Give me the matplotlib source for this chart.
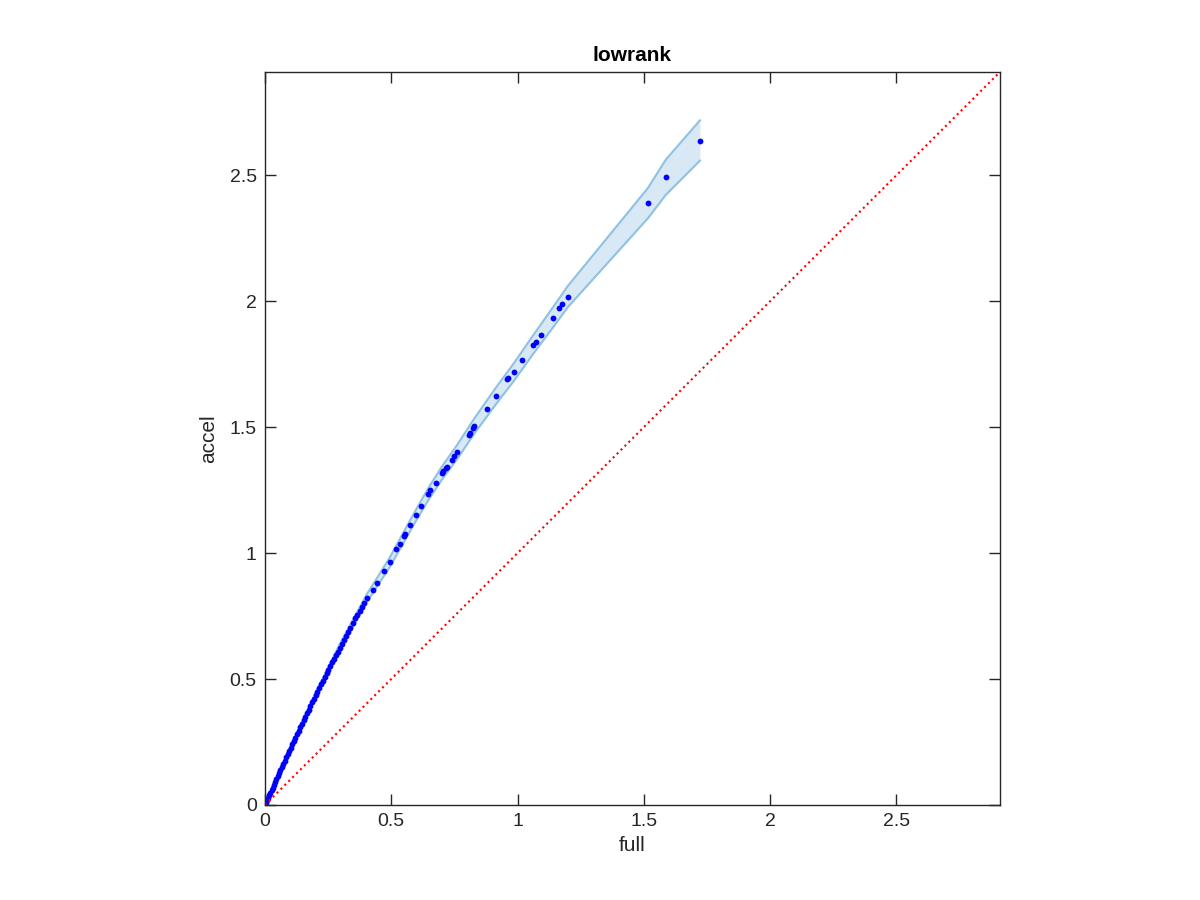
import numpy as np
import matplotlib
matplotlib.use("Agg")
import matplotlib.pyplot as plt

plt.rcParams['font.family'] = ['Liberation Sans', 'DejaVu Sans']

# scatter points (full vs accel)
full = [0.000, 0.004, 0.008, 0.012, 0.017, 0.021, 0.026, 0.030, 0.035, 0.040,
        0.045, 0.050, 0.056, 0.061, 0.067, 0.072, 0.078, 0.084, 0.090, 0.096,
        0.102, 0.108, 0.114, 0.120, 0.127, 0.133, 0.140, 0.146, 0.153, 0.160,
        0.166, 0.173, 0.180, 0.187, 0.194, 0.201, 0.208, 0.215, 0.222, 0.229,
        0.236, 0.244, 0.251, 0.258, 0.266, 0.273, 0.281, 0.288, 0.296, 0.304,
        0.312, 0.320, 0.330, 0.338, 0.349, 0.358, 0.366, 0.375, 0.383, 0.392,
        0.404, 0.427, 0.443, 0.472, 0.495, 0.520, 0.533, 0.552, 0.556, 0.575,
        0.599, 0.619, 0.646, 0.655, 0.677, 0.701, 0.705, 0.717, 0.722, 0.741,
        0.750, 0.762, 0.807, 0.811, 0.823, 0.828, 0.881, 0.913, 0.959, 0.962,
        0.985, 1.016, 1.060, 1.073, 1.092, 1.139, 1.165, 1.176, 1.198, 1.516,
        1.587, 1.722]
accel = [0.000, 0.009, 0.018, 0.028, 0.039, 0.048, 0.059, 0.068, 0.080, 0.091,
         0.102, 0.113, 0.127, 0.138, 0.151, 0.162, 0.175, 0.189, 0.202, 0.215,
         0.228, 0.241, 0.254, 0.267, 0.282, 0.295, 0.309, 0.322, 0.337, 0.351,
         0.364, 0.378, 0.393, 0.407, 0.422, 0.436, 0.450, 0.464, 0.479, 0.493,
         0.507, 0.523, 0.537, 0.550, 0.566, 0.580, 0.595, 0.609, 0.624, 0.640,
         0.654, 0.670, 0.688, 0.704, 0.724, 0.741, 0.756, 0.772, 0.787, 0.803,
         0.822, 0.853, 0.883, 0.930, 0.965, 1.015, 1.035, 1.068, 1.074, 1.112,
         1.152, 1.187, 1.233, 1.249, 1.279, 1.318, 1.324, 1.338, 1.342, 1.371,
         1.384, 1.403, 1.469, 1.475, 1.496, 1.503, 1.574, 1.622, 1.692, 1.697,
         1.718, 1.765, 1.825, 1.839, 1.866, 1.934, 1.975, 1.987, 2.017, 2.389,
         2.492, 2.638]

# confidence band
band_x = [0.0, 0.1, 0.2, 0.3, 0.404, 0.443, 0.495, 0.552, 0.599, 0.646, 0.701,
          0.762, 0.828, 0.913, 0.985, 1.060, 1.139, 1.198, 1.516, 1.587, 1.722]
band_hi = [0.0, 0.230, 0.445, 0.646, 0.838, 0.900, 0.984, 1.089, 1.174, 1.257,
           1.344, 1.431, 1.533, 1.655, 1.753, 1.862, 1.974, 2.059, 2.449, 2.562, 2.718]
band_lo = [0.0, 0.218, 0.427, 0.622, 0.806, 0.866, 0.946, 1.047, 1.130, 1.209,
           1.292, 1.375, 1.473, 1.589, 1.683, 1.788, 1.894, 1.975, 2.329, 2.422, 2.558]

lim = 2.91
ticks = [0, 0.5, 1, 1.5, 2, 2.5]
tick_labels = ["0", "0.5", "1", "1.5", "2", "2.5"]

fig = plt.figure(figsize=(12, 9), dpi=100)
ax = fig.add_axes([0.2208, 0.1056, 0.6125, 0.8144])

ax.fill_between(band_x, band_lo, band_hi, color="#d8e8f4", linewidth=0)
ax.plot(band_x, band_hi, color="#8fc1e3", linewidth=1.5)
ax.plot(band_x, band_lo, color="#8fc1e3", linewidth=1.5)

ax.plot(full, accel, "o", color="blue", markersize=4.2, markeredgewidth=0)
ax.plot([0, lim], [0, lim], linestyle=":", color="red", linewidth=1.5)

ax.set_xlim(0, lim)
ax.set_ylim(0, lim)
ax.set_xticks(ticks)
ax.set_xticklabels(tick_labels)
ax.set_yticks(ticks)
ax.set_yticklabels(tick_labels)

dark = "#262626"
for s in ax.spines.values():
    s.set_color(dark)
    s.set_linewidth(1.0)
ax.tick_params(direction="in", length=8, width=1.0, top=True, right=True,
               colors=dark, labelsize=14, pad=6)

ax.set_xlabel("full", fontsize=15, color=dark, labelpad=4)
ax.set_ylabel("accel", fontsize=15, color=dark, labelpad=8)
ax.set_title("lowrank", fontsize=15, fontweight="bold", pad=8)

fig.savefig("out.png", dpi=100)
